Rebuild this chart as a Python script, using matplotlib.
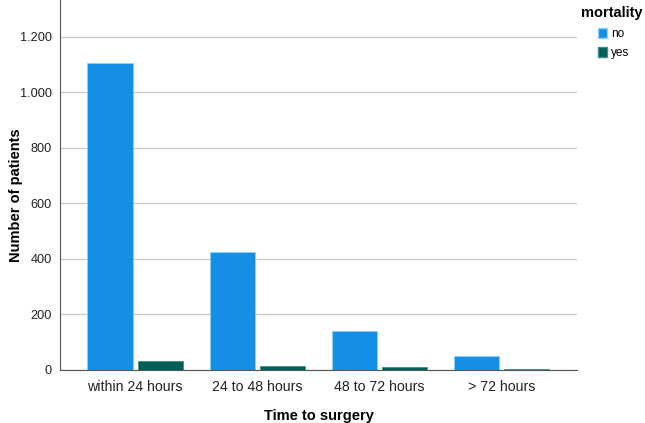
import numpy as np
import matplotlib
matplotlib.use('Agg')
import matplotlib.pyplot as plt
from matplotlib.patches import Patch
from matplotlib.ticker import FuncFormatter

plt.rcParams['font.family'] = ['Liberation Sans', 'DejaVu Sans']

# Data.
categories = ['within 24 hours', '24 to 48 hours', '48 to 72 hours', '> 72 hours']
no_counts = [1105, 425, 142, 50]
yes_counts = [34, 14, 10, 5]
series_names = ['no', 'yes']
yticks = [0, 200, 400, 600, 800, 1000, 1200]

blue = '#1390e6'
green = '#005e58'

fig = plt.figure(figsize=(6.45, 4.23), dpi=100)
ax = fig.add_axes([0.093, 0.1253, 0.8016, 0.8747])

x = np.arange(len(categories))
w = 0.37
gap = 0.04
ax.bar(x - (w + gap) / 2, no_counts, w, color=blue, edgecolor='#8fd0ff',
       linewidth=0.6, zorder=3)
ax.bar(x + (w + gap) / 2, yes_counts, w, color=green, edgecolor='#3f8f88',
       linewidth=0.6, zorder=3)

ax.set_xlim(-0.615, 3.62)
ax.set_ylim(0, 1333)
ax.set_xticks(x)
ax.set_xticklabels(categories, fontsize=10.2, color='#222222')
ax.set_yticks(yticks)
ax.yaxis.set_major_formatter(FuncFormatter(lambda v, p: f'{int(v):,}'.replace(',', '.')))
ax.tick_params(axis='y', labelsize=9.2, colors='#222222', length=0, pad=6)
ax.tick_params(axis='x', length=0, pad=7)

ax.grid(axis='y', color='#cccccc', linewidth=1.0, zorder=0)
for s in ['top', 'right']:
    ax.spines[s].set_visible(False)
ax.spines['left'].set_color('#555555')
ax.spines['bottom'].set_color('#555555')

ax.set_xlabel('Time to surgery', fontsize=10.5, fontweight='bold')
ax.set_ylabel('Number of patients', fontsize=10.5, fontweight='bold')
ax.xaxis.set_label_coords(0.5, -0.124)
ax.xaxis.label.set_verticalalignment('center')
ax.yaxis.set_label_coords(-0.086, 0.473)
ax.yaxis.label.set_verticalalignment('center')

# Legend placed at the right, title centred over the entries.
fig.text(612 / 645, 1 - 13 / 423, 'mortality', fontsize=10.5, fontweight='bold',
         ha='center', va='center')
handles = [Patch(facecolor=blue, edgecolor='#8fd0ff'),
           Patch(facecolor=green, edgecolor='#3f8f88')]
leg = fig.legend(handles, series_names, loc='upper center',
                 bbox_to_anchor=(614 / 645, 1 - 28 / 423), frameon=False,
                 fontsize=8.5, handlelength=0.75, handleheight=0.9,
                 handletextpad=0.35, labelspacing=0.6, borderaxespad=0,
                 borderpad=0)

fig.savefig('out.png', dpi=100)
